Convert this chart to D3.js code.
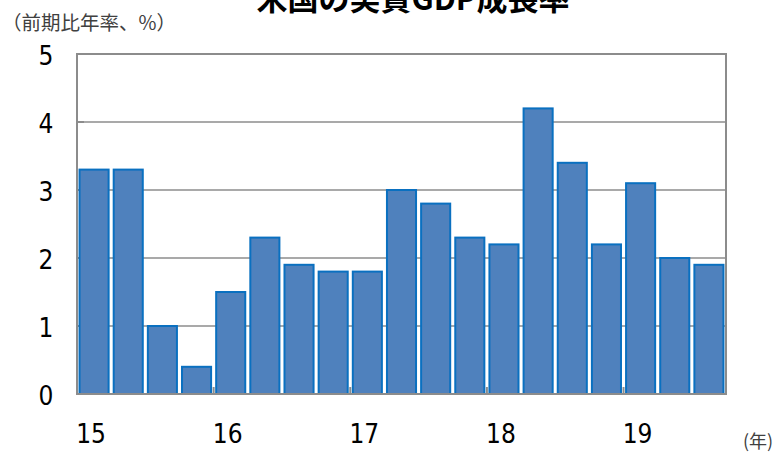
<!DOCTYPE html>
<html>
<head>
<meta charset="utf-8" />
<title>米国の実質GDP成長率</title>
<style>
* { padding: 0; margin: 0; }
body { background: #fff; }
#chart { width: 783px; height: 452px; }
</style>
</head>
<body>
<div id="chart"></div>
<script src="https://cdn.jsdelivr.net/npm/d3@7/dist/d3.min.js"></script>
<script>
    // quarterly data 2015Q1 - 2019Q3
    var quarters = ["15Q1","15Q2","15Q3","15Q4","16Q1","16Q2","16Q3","16Q4",
                    "17Q1","17Q2","17Q3","17Q4","18Q1","18Q2","18Q3","18Q4",
                    "19Q1","19Q2","19Q3"]
    var growth = [3.3, 3.3, 1.0, 0.4, 1.5, 2.3, 1.9, 1.8,
                  1.8, 3.0, 2.8, 2.3, 2.2, 4.2, 3.4, 2.2,
                  3.1, 2.0, 1.9]
    var yearLabels = ["15", "16", "17", "18", "19"]
    var yTicks = [0, 1, 2, 3, 4, 5]

    var width = 783, height = 452
    var margin = {top: 54, left: 77, bottom: 58, right: 57}
    var chartWidth = width - margin.left - margin.right
    var chartHeight = height - margin.top - margin.bottom

    var svg = d3.select("#chart").append("svg")
        .attr("width", width).attr("height", height)

    var numFont = "'DejaVu Sans Condensed', 'DejaVu Sans', sans-serif"
    var jpFont = "'Noto Sans CJK JP', sans-serif"
    var gridColor = "#8c8c8c"

    var x = d3.scaleBand().domain(quarters).range([0, chartWidth]).paddingInner(0.09).paddingOuter(0.045)
    var y = d3.scaleLinear().domain([0, 5]).range([chartHeight, 0])

    var g = svg.append("g").attr("transform", "translate(" + margin.left + "," + margin.top + ")")

    // gridlines
    g.append("g").selectAll("line").data(yTicks).enter().append("line")
        .attr("x1", 0).attr("x2", chartWidth)
        .attr("y1", function(d) { return y(d) }).attr("y2", function(d) { return y(d) })
        .attr("stroke", gridColor).attr("stroke-width", 1.5)

    // left inner ticks
    g.append("g").selectAll("line").data(yTicks).enter().append("line")
        .attr("x1", 0).attr("x2", 7)
        .attr("y1", function(d) { return y(d) }).attr("y2", function(d) { return y(d) })
        .attr("stroke", gridColor).attr("stroke-width", 2)

    // year boundary ticks on the bottom
    var step = x.step()
    var yearBounds = d3.range(1, 5).map(function(i) { return x(quarters[i * 4]) - (step - x.bandwidth()) / 2 })
    g.append("g").selectAll("line").data(yearBounds).enter().append("line")
        .attr("x1", function(d) { return d }).attr("x2", function(d) { return d })
        .attr("y1", chartHeight).attr("y2", chartHeight - 7)
        .attr("stroke", gridColor).attr("stroke-width", 2)

    // bars
    g.append("g").selectAll("rect").data(growth).enter().append("rect")
        .attr("x", function(d, i) { return x(quarters[i]) + 1 })
        .attr("y", function(d) { return y(d) })
        .attr("width", x.bandwidth() - 2)
        .attr("height", function(d) { return chartHeight - y(d) })
        .attr("fill", "#4f81bd")
        .attr("stroke", "#0a70c0")
        .attr("stroke-width", 2)

    // frame
    g.append("rect").attr("x", 0).attr("y", 0)
        .attr("width", chartWidth).attr("height", chartHeight)
        .attr("fill", "none").attr("stroke", gridColor).attr("stroke-width", 2)

    // y labels
    g.append("g").selectAll("text").data(yTicks).enter().append("text")
        .attr("x", -31).attr("y", function(d) { return y(d) + 2 })
        .attr("dy", "0.36em")
        .attr("text-anchor", "middle")
        .attr("font-family", numFont).attr("font-stretch", "condensed")
        .attr("font-size", 26).attr("fill", "#000")
        .text(function(d) { return d })

    // year labels under the first quarter of each year
    g.append("g").selectAll("text").data(yearLabels).enter().append("text")
        .attr("x", function(d, i) { return x(quarters[i * 4]) + x.bandwidth() / 2 - 3 })
        .attr("y", chartHeight + 49)
        .attr("text-anchor", "middle")
        .attr("font-family", numFont).attr("font-stretch", "condensed")
        .attr("font-size", 26).attr("fill", "#000")
        .text(function(d) { return d })

    // title (cut off at top, as in the source)
    svg.append("text")
        .attr("x", 413).attr("y", 10)
        .attr("text-anchor", "middle")
        .attr("font-family", jpFont).attr("font-weight", "bold")
        .attr("font-size", 31).attr("fill", "#000")
        .text("米国の実質GDP成長率")

    svg.append("text")
        .attr("x", 2).attr("y", 30)
        .attr("font-family", jpFont).attr("font-size", 19.5).attr("fill", "#404040")
        .text("（前期比年率、%）")

    svg.append("text")
        .attr("x", 743).attr("y", 448)
        .attr("font-family", jpFont).attr("font-size", 18).attr("fill", "#404040")
        .text("(年)")
</script>
</body>
</html>
